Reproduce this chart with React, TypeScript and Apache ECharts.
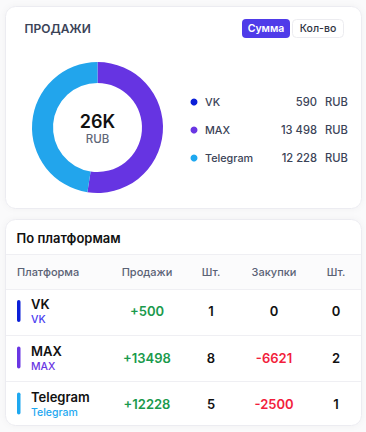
import React, { useEffect, useRef } from "react";
import * as echarts from "echarts";

const platforms = ["VK", "MAX", "Telegram"];
const platformColors = ["#0b1fd8", "#6a36e3", "#1ea8f0"];
const subLabelColors = ["#4a3cf0", "#6a36e3", "#1ea8f0"];
const legendAmounts = [590, 13498, 12228];
// donut shares as drawn (VK slice not visible in the ring)
const donutValues = [0, 13498, 12228];
const tableHeaders = ["Платформа", "Продажи", "Шт.", "Закупки", "Шт."];
const sales = [500, 13498, 12228];
const salesQty = [1, 8, 5];
const purchases = [0, -6621, -2500];
const purchaseQty = [0, 2, 1];
const toggleLabels = ["Сумма", "Кол-во"];

const FONT = "Inter, 'Noto Sans', sans-serif";

function groupThousands(n: number): string {
  return String(n).replace(/\B(?=(\d{3})+(?!\d))/g, " ");
}

function txt(x: number, y: number, text: string, size: number, weight: number | string, fill: string, align = "left", z = 20) {
  return {
    type: "text",
    x,
    y,
    z,
    silent: true,
    style: {
      text,
      fill,
      font: `${weight} ${size}px ${FONT}`,
      align,
      textAlign: align,
      verticalAlign: "middle",
      textVerticalAlign: "middle",
    },
  };
}

export default function App() {
  const ref = useRef<HTMLDivElement>(null);
  useEffect(() => {
    if (!ref.current) return;
    const chart = echarts.init(ref.current, undefined, { renderer: "svg" });
    const total = legendAmounts.reduce((a, b) => a + b, 0);
    const g: any[] = [];

    // cards
    g.push({
      type: "rect", z: 0, silent: true,
      shape: { x: 5.5, y: 6.5, width: 356, height: 202, r: 10 },
      style: { fill: "#ffffff", stroke: "#ececf1", lineWidth: 1, shadowBlur: 6, shadowColor: "rgba(0,0,0,0.04)" },
    });
    g.push({
      type: "rect", z: 0, silent: true,
      shape: { x: 5.5, y: 219.5, width: 356, height: 206, r: 10 },
      style: { fill: "#ffffff", stroke: "#ececf1", lineWidth: 1, shadowBlur: 6, shadowColor: "rgba(0,0,0,0.04)" },
    });

    // title
    g.push(txt(24.5, 28.5, "ПРОДАЖИ", 12, 600, "#3b4357"));

    // toggle buttons
    g.push({
      type: "rect", z: 5, silent: true,
      shape: { x: 242, y: 19, width: 48, height: 19, r: 4 },
      style: { fill: "#4f3be9" },
    });
    g.push({
      type: "rect", z: 5, silent: true,
      shape: { x: 292.5, y: 19.5, width: 51, height: 18, r: 4 },
      style: { fill: "#ffffff", stroke: "#ececf0", lineWidth: 1 },
    });
    g.push(txt(266, 28.5, toggleLabels[0], 10.5, 600, "#ffffff", "center"));
    g.push(txt(318, 28.5, toggleLabels[1], 10.5, 500, "#2f3442", "center"));

    // center text
    g.push(txt(97.5, 121, Math.round(total / 1000) + "K", 18, 600, "#111111", "center"));
    g.push(txt(97.5, 139, "RUB", 11.5, 500, "#5f6778", "center"));

    // legend
    const legendY = [102, 130, 158];
    platforms.forEach((p, i) => {
      g.push({
        type: "circle", z: 10, silent: true,
        shape: { cx: 194, cy: legendY[i], r: 3.5 },
        style: { fill: platformColors[i] },
      });
      g.push(txt(205, legendY[i], p, 10.8, 500, "#3b4357"));
      g.push(txt(317, legendY[i], groupThousands(legendAmounts[i]), 11.2, 500, "#3b4357", "right"));
      g.push(txt(325, legendY[i], "RUB", 11.2, 500, "#3b4357"));
    });

    // table
    g.push(txt(16.5, 238, "По платформам", 13, 600, "#111111"));
    g.push({ type: "rect", z: 1, silent: true, shape: { x: 6, y: 254, width: 355, height: 35 }, style: { fill: "#fbfbfc" } });
    const hline = (y: number) => ({
      type: "line", z: 2, silent: true,
      shape: { x1: 6, y1: y, x2: 361, y2: y },
      style: { stroke: "#efeff3", lineWidth: 1 },
    });
    g.push(hline(254.5));
    g.push(hline(289.5));
    const colX = [17, 147, 211, 274, 336];
    tableHeaders.forEach((h, i) => {
      g.push(txt(colX[i], 272, h, 11, 500, "#5a6275", i === 0 ? "left" : "center"));
    });
    const rowMid = [311, 357.5, 403.5];
    platforms.forEach((p, i) => {
      const y = rowMid[i];
      if (i > 0) g.push(hline(Math.round(y - 23) + 0.5));
      g.push({
        type: "rect", z: 5, silent: true,
        shape: { x: 17, y: y - 11, width: 3.5, height: 22, r: 1.75 },
        style: { fill: platformColors[i] },
      });
      g.push(txt(31, y - 7, p, 13, 600, "#111111"));
      g.push(txt(31, y + 8.5, p, 10.5, 500, subLabelColors[i]));
      const s = sales[i];
      g.push(txt(colX[1], y, (s > 0 ? "+" : "") + s, 13, 600, s > 0 ? "#1a9a4c" : "#111111", "center"));
      g.push(txt(colX[2], y, String(salesQty[i]), 13, 600, "#111111", "center"));
      const pu = purchases[i];
      g.push(txt(colX[3], y, String(pu), 13, 600, pu < 0 ? "#f21e3c" : "#111111", "center"));
      g.push(txt(colX[4], y, String(purchaseQty[i]), 13, 600, "#111111", "center"));
    });

    chart.setOption({
      animation: false,
      backgroundColor: "#fafafb",
      graphic: { elements: g },
      series: [
        {
          type: "pie",
          center: [97.5, 127.5],
          radius: [44.5, 65.5],
          startAngle: 90,
          clockwise: true,
          silent: true,
          z: 10,
          label: { show: false },
          labelLine: { show: false },
          data: platforms.map((p, i) => ({
            name: p,
            value: donutValues[i],
            itemStyle: { color: i === 2 ? "#22a5ec" : i === 1 ? "#6634e2" : platformColors[i] },
          })),
        },
      ],
    });
    return () => chart.dispose();
  }, []);
  return (
    <div style={{ position: "fixed", left: 0, top: 0, width: 366, height: 432 }}>
      <div ref={ref} style={{ width: 366, height: 432 }} />
    </div>
  );
}
